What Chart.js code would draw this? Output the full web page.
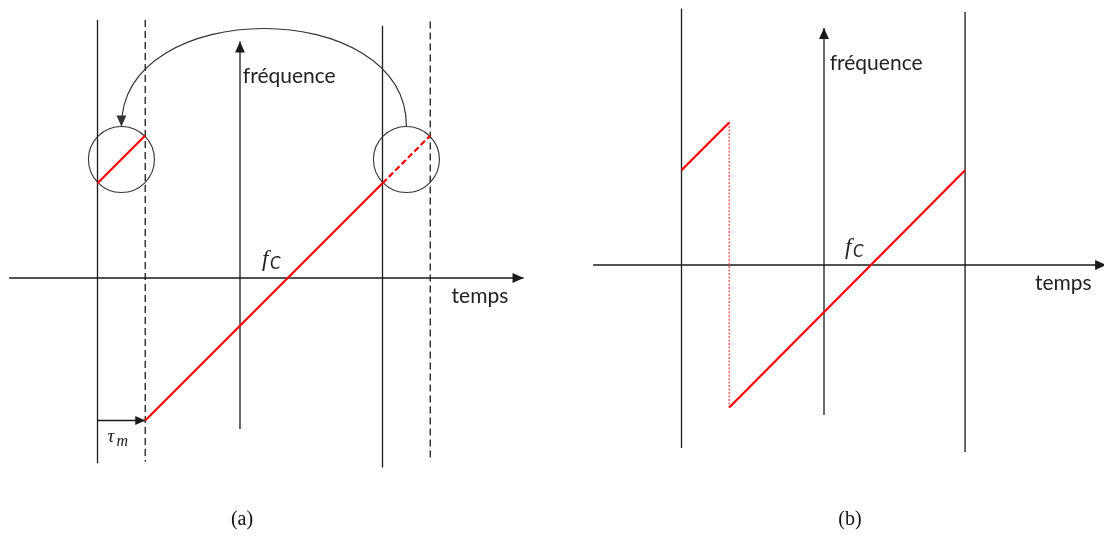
<!DOCTYPE html>
<html>
<head>
<meta charset="utf-8">
<script src="https://cdn.jsdelivr.net/npm/chart.js@4.4.1/dist/chart.umd.min.js"></script>
<style>
  body { margin: 0; background: #fff; width: 1104px; height: 541px; position: relative; overflow: hidden; }
  canvas { position: absolute; top: 0; }
  #chartA { left: 0; }
  #chartB { left: 552px; }
  .cap { position: absolute; top: 507px; font: 20px "Liberation Serif", serif; color: #111; transform: translateX(-50%); }
</style>
</head>
<body>
<canvas id="chartA" width="552" height="541"></canvas>
<canvas id="chartB" width="552" height="541"></canvas>
<div class="cap" style="left:242px">(a)</div>
<div class="cap" style="left:850px">(b)</div>
<script>
// time in units of half the observation window, frequency as offset from f_c (same units)

// --- panel (a): delayed echo, the end of the ramp folds back to the start
const timeAxisA = [-1.62, 1.99];
const freqAxisA = [-1.06, 1.66];
const windowEdgesA = [-1.0, 1.0];
const windowTopA = [1.81, 1.77];
const windowBotA = [-1.30, -1.33];
const delayEdgesA = [-0.665, 1.335];
const delayTopA = [1.81, 1.80];
const delayBotA = [-1.29, -1.29];
const echoT = [-0.665, 1.0];
const echoF = [-1.0, 0.665];
const tailT = [1.0, 1.335];
const tailF = [0.665, 1.0];
const foldT = [-1.0, -0.665];
const foldF = [0.665, 1.0];
const focusT = [-0.832, 1.168];
const focusF = [0.832, 0.832];
const hopT = [1.168, 1.168, -0.832, -0.832];
const hopF = [1.063, 1.98, 1.98, 1.063];
const delayArrowT = [-1.0, -0.665];
const delayArrowF = [-1.0, -1.0];

// --- panel (b): folded ramp seen by the receiver
const timeAxisB = [-1.62, 1.98];
const freqAxisB = [-1.053, 1.663];
const windowEdgesB = [-1.0, 0.99];
const windowTopB = [1.80, 1.775];
const windowBotB = [-1.284, -1.312];
const rampT1 = [-1.0, -0.665];
const rampF1 = [0.665, 1.0];
const flyT = [-0.665, -0.665];
const flyF = [1.0, -1.0];
const rampT2 = [-0.665, 0.99];
const rampF2 = [-1.0, 0.665];

const INK = '#1a1a1a';
const RED = '#ff0000';

function seg(ts, fs, style) {
    return Object.assign({
        data: ts.map((t, k) => ({ x: t, y: fs[k] })),
        showLine: true,
        pointRadius: 0,
        borderColor: INK,
        borderWidth: 1.3,
        tension: 0
    }, style);
}

function head(ctx, x0, y0, x1, y1, color, size) {
    const ang = Math.atan2(y1 - y0, x1 - x0);
    ctx.save();
    ctx.translate(x1, y1);
    ctx.rotate(ang);
    ctx.beginPath();
    ctx.moveTo(0, 0);
    ctx.lineTo(-size, -size * 0.45);
    ctx.lineTo(-size, size * 0.45);
    ctx.closePath();
    ctx.fillStyle = color;
    ctx.fill();
    ctx.restore();
}

const sketch = {
    id: 'sketch',
    afterDatasetsDraw(chart) {
        const { ctx } = chart;
        const sx = chart.scales.x, sy = chart.scales.y;
        const o = chart.options.plugins.sketch || {};
        ctx.save();
        chart.data.datasets.forEach((ds, i) => {
            if (!ds.arrow) return;
            const pts = chart.getDatasetMeta(i).data;
            const a = pts[pts.length - 2], b = pts[pts.length - 1];
            head(ctx, a.x, a.y, b.x, b.y, ds.borderColor, ds.arrow);
        });
        (o.curves || []).forEach(c => {
            const p = c.t.map((t, k) => [sx.getPixelForValue(t), sy.getPixelForValue(c.f[k])]);
            ctx.beginPath();
            ctx.moveTo(p[0][0], p[0][1]);
            ctx.bezierCurveTo(p[1][0], p[1][1], p[2][0], p[2][1], p[3][0], p[3][1]);
            ctx.strokeStyle = c.color;
            ctx.lineWidth = c.width;
            ctx.stroke();
            head(ctx, p[2][0], p[2][1], p[3][0], p[3][1], c.color, c.arrow);
        });
        (o.labels || []).forEach(l => {
            ctx.font = l.font;
            ctx.fillStyle = l.color || '#222';
            ctx.textAlign = 'left';
            ctx.textBaseline = 'alphabetic';
            ctx.fillText(l.text, sx.getPixelForValue(l.t) + (l.dx || 0), sy.getPixelForValue(l.f) + (l.dy || 0));
        });
        ctx.restore();
    }
};

function baseOptions(xr, yr, extra) {
    return {
        responsive: false,
        animation: false,
        layout: { padding: 0, autoPadding: false },
        scales: {
            x: { type: 'linear', min: xr[0], max: xr[1], display: false },
            y: { type: 'linear', min: yr[0], max: yr[1], display: false }
        },
        plugins: { legend: { display: false }, tooltip: { enabled: false }, sketch: extra }
    };
}

const fcLabel = (t, f) => [
    { text: 'f', t, f, font: 'italic 23px "Liberation Serif"', color: '#222' },
    { text: 'C', t, f, dx: 8, dy: 3, font: 'italic 17px Lato', color: '#222' }
];

// unit = 142.5 px; origin of (a) at (240, 278), of (b) at (272, 265) within its canvas
new Chart(document.getElementById('chartA'), {
    type: 'scatter',
    data: {
        datasets: [
            seg(echoT, echoF, { borderColor: RED, borderWidth: 2.2 }),
            seg(tailT, tailF, { borderColor: RED, borderWidth: 2.2, borderDash: [6, 3] }),
            seg(foldT, foldF, { borderColor: RED, borderWidth: 2.2 }),
            {
                data: focusT.map((t, k) => ({ x: t, y: focusF[k] })),
                showLine: false,
                pointRadius: 33,
                pointBorderWidth: 1.1,
                pointBorderColor: '#333',
                pointBackgroundColor: 'rgba(0,0,0,0)'
            },
            seg(delayArrowT, delayArrowF, { arrow: 10 }),
            seg(timeAxisA, [0, 0], { arrow: 11 }),
            seg([0, 0], freqAxisA, { arrow: 11 }),
            seg([windowEdgesA[0], windowEdgesA[0]], [windowTopA[0], windowBotA[0]]),
            seg([windowEdgesA[1], windowEdgesA[1]], [windowTopA[1], windowBotA[1]]),
            seg([delayEdgesA[0], delayEdgesA[0]], [delayTopA[0], delayBotA[0]], { borderDash: [7, 4] }),
            seg([delayEdgesA[1], delayEdgesA[1]], [delayTopA[1], delayBotA[1]], { borderDash: [7, 4] })
        ]
    },
    options: baseOptions([-240 / 142.5, 312 / 142.5], [-263 / 142.5, 278 / 142.5], {
        curves: [{ t: hopT, f: hopF, color: '#333', width: 1.2, arrow: 11 }],
        labels: [
            { text: 'fréquence', t: 0.02, f: 1.37, font: '21px Lato' },
            { text: 'temps', t: 1.485, f: -0.175, font: '21px Lato' },
            ...fcLabel(0.154, 0.084),
            { text: 'τ', t: -0.93, f: -1.15, font: 'italic 19px "Liberation Serif"' },
            { text: 'm', t: -0.93, f: -1.15, dx: 9, dy: 4, font: 'italic 16px "Liberation Serif"' }
        ]
    }),
    plugins: [sketch]
});

new Chart(document.getElementById('chartB'), {
    type: 'scatter',
    data: {
        datasets: [
            seg(rampT1, rampF1, { borderColor: RED, borderWidth: 2.2 }),
            seg(rampT2, rampF2, { borderColor: RED, borderWidth: 2.2 }),
            seg(flyT, flyF, { borderColor: '#ff7070', borderWidth: 1.6, borderDash: [2, 1.5] }),
            seg(timeAxisB, [0, 0], { arrow: 11 }),
            seg([0, 0], freqAxisB, { arrow: 11 }),
            seg([windowEdgesB[0], windowEdgesB[0]], [windowTopB[0], windowBotB[0]]),
            seg([windowEdgesB[1], windowEdgesB[1]], [windowTopB[1], windowBotB[1]])
        ]
    },
    options: baseOptions([-272 / 142.5, 280 / 142.5], [-276 / 142.5, 265 / 142.5], {
        labels: [
            { text: 'fréquence', t: 0.04, f: 1.37, font: '21px Lato' },
            { text: 'temps', t: 1.48, f: -0.175, font: '21px Lato' },
            ...fcLabel(0.147, 0.077)
        ]
    }),
    plugins: [sketch]
});
</script>
</body>
</html>
